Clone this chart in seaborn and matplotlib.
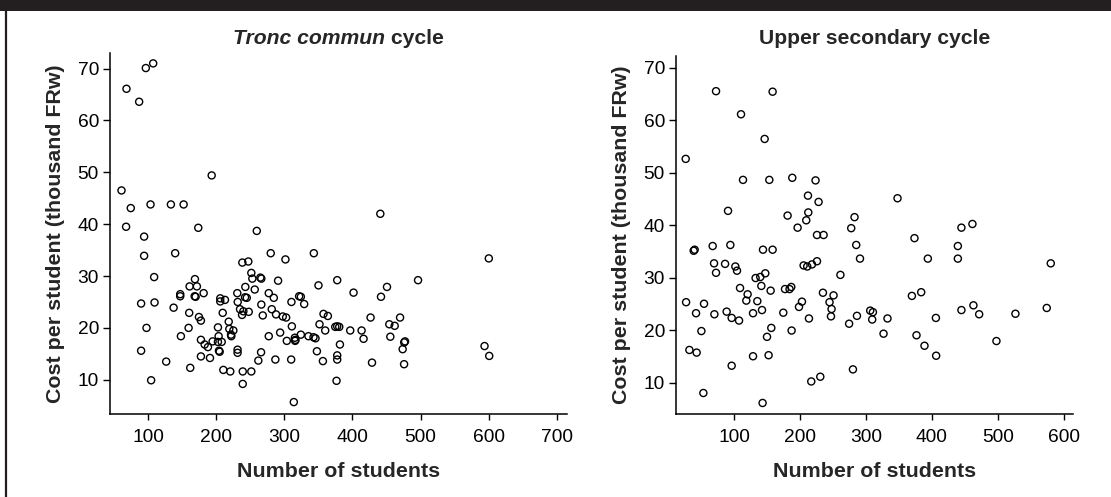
import matplotlib
matplotlib.use("Agg")
import matplotlib.pyplot as plt
from matplotlib.patches import Rectangle
from matplotlib.lines import Line2D
import seaborn as sns
import pandas as pd

# Tronc commun cycle: enrolment vs. cost per student (thousand FRw)
tc_students = [
    96.6, 107.4, 68.2, 86.8, 193.3, 60.9, 74.5, 103.5, 133.4, 152.1, 67.6, 173.6,
    259.5, 94.1, 94.1, 139.7, 238.3, 247.1, 280.0, 301.6, 440.9, 343.3, 600.2,
    89.7, 109.4, 108.8, 97.6, 89.7, 104.4, 126.5, 137.4, 147.1, 147.1, 148.1,
    160.9, 168.7, 171.6, 168.3, 169.7, 181.5, 160.3, 159.4, 161.8, 174.6, 177.5,
    177.5, 183.0, 187.8, 194.7, 177.5, 190.8, 202.5, 208.0, 202.5, 203.5, 204.0,
    205.0, 205.9, 205.9, 212.8, 209.5, 210.4, 220.6, 218.3, 219.2, 222.1, 225.1,
    221.7, 230.9, 231.5, 231.3, 231.3, 234.9, 242.7, 242.3, 244.8, 237.9, 239.8,
    247.7, 238.9, 238.9, 251.5, 251.5, 253.0, 256.5, 264.8, 266.2, 266.2, 268.3,
    265.8, 261.8, 277.1, 284.5, 281.5, 287.8, 277.1, 290.8, 293.8, 297.7, 302.6,
    286.8, 303.6, 310.4, 311.0, 310.0, 315.8, 313.9, 321.7, 324.2, 329.1, 350.1,
    377.6, 401.6, 441.9, 450.7, 496.3, 316.3, 315.4, 324.2, 335.4, 342.8, 345.7,
    357.5, 363.9, 351.6, 360.0, 347.8, 356.6, 374.7, 380.6, 377.6, 381.6, 377.6,
    377.6, 376.6, 396.7, 413.4, 416.3, 426.6, 428.7, 454.1, 462.0, 455.6, 469.9,
    477.2, 476.0, 473.7, 475.8, 593.9, 600.8,
]
tc_cost = [
    70.1, 71.0, 66.1, 63.6, 49.4, 46.5, 43.1, 43.8, 43.8, 43.8, 39.5, 39.3,
    38.7, 37.6, 33.9, 34.4, 32.6, 32.8, 34.4, 33.2, 42.0, 34.4, 33.4,
    24.7, 24.9, 29.8, 20.0, 15.6, 9.9, 13.5, 23.9, 26.5, 26.1, 18.4,
    28.0, 29.4, 28.0, 26.1, 26.0, 26.7, 22.9, 20.0, 12.3, 22.1, 21.4,
    17.7, 16.8, 16.3, 17.4, 14.5, 14.2, 17.3, 17.3, 20.1, 18.4, 15.6,
    15.4, 25.7, 25.1, 25.4, 22.9, 11.9, 11.6, 21.2, 19.8, 18.4, 19.5,
    18.7, 26.7, 25.0, 15.8, 15.2, 23.6, 27.9, 25.9, 25.8, 22.5, 23.2,
    23.1, 9.2, 11.6, 11.6, 30.6, 29.5, 27.4, 29.7, 29.5, 24.5, 22.4,
    15.3, 13.7, 26.7, 25.8, 23.6, 22.6, 18.4, 29.1, 19.1, 22.2, 22.0,
    13.9, 17.5, 25.0, 20.3, 13.9, 17.5, 5.7, 26.1, 26.0, 24.6, 28.2,
    29.2, 26.8, 26.0, 27.9, 29.2, 17.7, 18.1, 18.7, 18.4, 18.2, 18.0,
    22.7, 22.3, 20.7, 19.5, 15.5, 13.6, 20.2, 20.2, 20.3, 16.8, 14.7,
    13.9, 9.8, 19.5, 19.5, 17.9, 22.0, 13.3, 20.7, 20.4, 18.3, 22.0,
    17.4, 17.2, 15.9, 13.0, 16.5, 14.6,
]

# Upper secondary cycle
us_students = [
    72.7, 158.5, 110.6, 146.4, 26.7, 113.6, 153.5, 188.3, 223.6, 212.1, 228.2,
    90.9, 212.6, 209.5, 181.2, 196.4, 225.8, 235.8, 282.7, 277.7, 285.3, 291.0,
    38.8, 40.3, 67.6, 94.4, 143.9, 158.5, 69.7, 86.4, 102.0, 104.5, 205.5,
    211.0, 218.2, 225.8, 347.9, 373.6, 444.8, 461.5, 439.4, 393.9, 439.4, 580.3,
    72.7, 27.3, 42.4, 54.5, 50.5, 32.3, 43.3, 53.5, 70.2, 88.8, 96.4, 107.6,
    96.4, 109.1, 120.6, 118.6, 128.8, 128.8, 132.7, 139.8, 147.4, 141.4, 135.3,
    142.4, 155.5, 150.0, 156.5, 152.4, 143.3, 174.7, 177.3, 184.2, 186.8, 187.3,
    198.5, 203.0, 213.6, 217.1, 230.8, 234.8, 244.8, 250.9, 247.9, 247.0, 261.3,
    274.5, 280.3, 286.4, 306.5, 310.6, 309.5, 326.7, 332.7, 369.7, 383.8, 376.7,
    388.8, 406.1, 406.5, 444.8, 463.0, 471.7, 497.9, 526.7, 574.2,
]
us_cost = [
    65.5, 65.4, 61.1, 56.4, 52.6, 48.6, 48.6, 49.0, 48.5, 45.6, 44.4,
    42.7, 42.4, 40.9, 41.8, 39.5, 38.1, 38.1, 41.5, 39.4, 36.2, 33.6,
    35.1, 35.3, 36.0, 36.2, 35.3, 35.3, 32.7, 32.6, 32.1, 31.3, 32.3,
    32.1, 32.5, 33.1, 45.1, 37.5, 39.5, 40.2, 36.0, 33.6, 33.6, 32.7,
    30.9, 25.3, 23.2, 25.0, 19.8, 16.2, 15.7, 8.0, 23.0, 23.5, 22.3, 21.8,
    13.2, 28.0, 26.8, 25.6, 23.2, 15.0, 29.9, 30.1, 30.8, 28.4, 25.5,
    23.8, 27.5, 18.7, 20.4, 15.2, 6.1, 23.3, 27.8, 27.8, 28.2, 19.9,
    24.4, 25.4, 22.2, 10.2, 11.1, 27.1, 25.3, 26.6, 24.0, 22.6, 30.5,
    21.2, 12.5, 22.7, 23.7, 23.4, 22.0, 19.3, 22.2, 26.5, 27.2, 19.0,
    17.0, 22.3, 15.1, 23.8, 24.7, 23.0, 17.9, 23.1, 24.2,
]

x_label = "Number of students"
y_label = "Cost per student (thousand FRw)"
y_ticks = [10, 20, 30, 40, 50, 60, 70]
tc_x_ticks = [100, 200, 300, 400, 500, 600, 700]
us_x_ticks = [100, 200, 300, 400, 500, 600]

sns.set_theme(style="ticks")
plt.rcParams["font.family"] = ["Liberation Sans", "DejaVu Sans"]
plt.rcParams["axes.linewidth"] = 1.1
plt.rcParams["xtick.major.width"] = 1.0
plt.rcParams["ytick.major.width"] = 1.0
plt.rcParams["xtick.major.size"] = 4.5
plt.rcParams["ytick.major.size"] = 5

W, H = 1111, 497
fig = plt.figure(figsize=(W / 100, H / 100), dpi=100)
fig.patch.set_facecolor("white")

def px_axes(x0, x1, ytop, ybot):
    return fig.add_axes([x0 / W, (H - ybot) / H, (x1 - x0) / W, (ybot - ytop) / H])

ax1 = px_axes(110, 567, 53, 414)
ax2 = px_axes(676, 1073, 56, 414)

tc = pd.DataFrame({"students": tc_students, "cost": tc_cost})
us = pd.DataFrame({"students": us_students, "cost": us_cost})

for ax, df, xt, xlim, ylim in [
    (ax1, tc, tc_x_ticks, (44, 715), (3.4, 73.0)),
    (ax2, us, us_x_ticks, (12, 614), (4.0, 72.2)),
]:
    sns.scatterplot(data=df, x="students", y="cost", ax=ax, marker="o",
                    s=26, facecolors="none", edgecolor="black", linewidth=1.0)
    ax.set_xlim(*xlim)
    ax.set_ylim(*ylim)
    ax.set_xticks(xt)
    ax.set_yticks(y_ticks)
    ax.tick_params(axis="both", labelsize=13.8, colors="black")
    ax.tick_params(axis="x", pad=6.5)
    ax.tick_params(axis="y", pad=3)
    ax.set_xlabel(x_label, fontsize=15.4, fontweight="bold", labelpad=11.5)
    ax.set_ylabel(y_label, fontsize=15.4, fontweight="bold", labelpad=9)
    for side in ("top", "right"):
        ax.spines[side].set_visible(False)
    for side in ("left", "bottom"):
        ax.spines[side].set_color("black")
    ax.set_facecolor("white")

# Panel titles; the first one mixes italic and upright bold text
fig.canvas.draw()
renderer = fig.canvas.get_renderer()
title_y = 1 - 43.5 / H
title_size = 15.2
t1 = fig.text(0, title_y, "Tronc commun", fontsize=title_size, fontweight="bold",
              style="italic", va="baseline")
t2 = fig.text(0, title_y, " cycle", fontsize=title_size, fontweight="bold",
              va="baseline")
w1 = t1.get_window_extent(renderer).width
w2 = t2.get_window_extent(renderer).width
cx = (110 + 567) / 2
start = cx - (w1 + w2) / 2
t1.set_x(start / W)
t2.set_x((start + w1) / W)
fig.text((676 + 1073) / 2 / W, title_y, "Upper secondary cycle", fontsize=title_size,
         fontweight="bold", ha="center", va="baseline")

# Dark header band and left frame rule
fig.patches.append(Rectangle((0, 1 - 11 / H), 1, 11 / H, transform=fig.transFigure,
                             facecolor="#231f20", edgecolor="none", zorder=5))
fig.lines.append(Line2D([6 / W, 6 / W], [0, 1 - 11 / H], transform=fig.transFigure,
                        color="#231f20", linewidth=1.6))

fig.savefig("out.png", dpi=100)
